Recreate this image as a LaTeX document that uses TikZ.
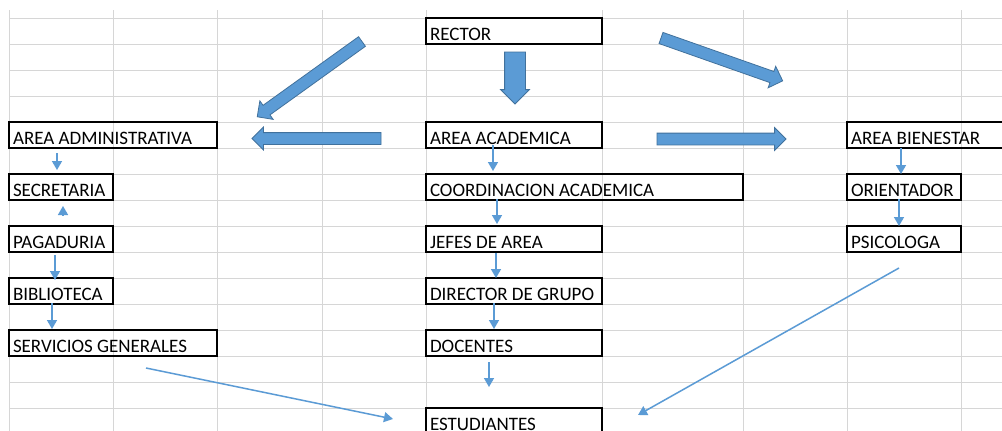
\documentclass[tikz,border=0pt]{standalone}
\usepackage{fontspec}
\setmainfont{Carlito}
\usetikzlibrary{shapes.arrows,arrows.meta}
\definecolor{officeblue}{HTML}{5B9BD5}
\definecolor{officeedge}{HTML}{41719C}
\definecolor{gridgray}{HTML}{D6D6D6}
\begin{document}
\begin{tikzpicture}[x=1pt, y=-1pt]

\tikzstyle{cell} = [rectangle, draw=black, line width=1.2pt, anchor=north west, outer sep=0pt,
  inner xsep=4pt, inner ysep=0pt, minimum height=26pt, text height=19pt, text depth=1pt,
  font=\fontsize{19}{22}\selectfont,
  execute at begin node={\spaceskip=0pt\xspaceskip=0pt\hbox to \linewidth\bgroup},
  execute at end node={\hfil\egroup}]
\tikzstyle{big} = [single arrow, fill=officeblue, draw=officeedge, line width=0.8pt,
  anchor=tail, inner xsep=0pt, inner ysep=5.5pt, outer sep=0pt,
  single arrow head extend=5.5pt, minimum height=129pt]
\tikzstyle{flow} = [-{Triangle[width=10pt,length=9pt]}, officeblue, line width=1.5pt]

\useasboundingbox (0,0) rectangle (1002,431);
\fill[white] (0,0) rectangle (1002,431);
\clip (0,0) rectangle (1002,431);

% sheet grid
\foreach \x in {9,113,217,322,426,602,743,847,961}
  \draw[gridgray, line width=1pt] (\x,10) -- (\x,431);
\foreach \y in {18,44,...,408}
  \draw[gridgray, line width=1pt] (9,\y) -- (1002,\y);

\node[cell, text width=168pt] (rec) at (426,18) {RECTOR};

\node[cell, text width=200pt] (adm) at (9,122) {AREA ADMINISTRATIVA};
\node[cell, text width=168pt] (aca) at (426,122) {AREA ACADEMICA};
\node[cell, text width=160pt] (bie) at (847,122) {AREA BIENESTAR};

\node[cell, text width=96pt] (sec) at (9,174) {SECRETARIA};
\node[cell, text width=309pt] (coo) at (426,174) {COORDINACION ACADEMICA};
\node[cell, text width=106pt] (ori) at (847,174) {ORIENTADOR};

\node[cell, text width=96pt] (pag) at (9,226) {PAGADURIA};
\node[cell, text width=168pt] (jef) at (426,226) {JEFES DE AREA};
\node[cell, text width=106pt] (psi) at (847,226) {PSICOLOGA};

\node[cell, text width=96pt] (bib) at (9,278) {BIBLIOTECA};
\node[cell, text width=168pt] (dir) at (426,278) {DIRECTOR DE GRUPO};

\node[cell, text width=200pt] (ser) at (9,330) {SERVICIOS GENERALES};
\node[cell, text width=168pt] (doc) at (426,330) {DOCENTES};

\node[cell, text width=168pt] (est) at (426,408) {ESTUDIANTES};

% block arrows
\node[big, rotate=-90, minimum height=52pt, inner ysep=10pt, single arrow head extend=4pt] (b1) at (515,52) {};
\node[big, rotate=215.7] (b2) at (362,41.5) {};
\node[big, rotate=180] (b3) at (381,138.5) {};
\node[big] (b4) at (657,139) {};
\node[big, rotate=-19.4] (b5) at (661,38) {};

% thin arrows
\draw[flow] ([shift={(48,5)}]adm.south west) -- ([shift={(48,-4)}]sec.north west);
\draw[flow] ([shift={(54,-11)}]pag.north west) -- ([shift={(54,6)}]sec.south west);
\draw[flow] ([shift={(46,3)}]pag.south west) -- ([shift={(46,2)}]bib.north west);
\draw[flow] ([shift={(43,-1)}]bib.south west) -- ([shift={(43,-1)}]ser.north west);
\draw[flow] ([shift={(137,12)}]ser.south west) -- ([shift={(-33,11)}]est.north west);

\draw[flow] ([shift={(67,-3)}]aca.south west) -- ([shift={(67,-3)}]coo.north west);
\draw[flow] ([shift={(71,-1)}]coo.south west) -- ([shift={(71,-2)}]jef.north west);
\draw[flow] ([shift={(70,1)}]jef.south west) -- ([shift={(70,0)}]dir.north west);
\draw[flow] ([shift={(68,-1)}]dir.south west) -- ([shift={(68,-1)}]doc.north west);
\draw[flow] ([shift={(63,6)}]doc.south west) -- ([shift={(63,-21)}]est.north west);

\draw[flow] ([shift={(54,0)}]bie.south west) -- ([shift={(54,0)}]ori.north west);
\draw[flow] ([shift={(52,-1)}]ori.south west) -- ([shift={(52,0)}]psi.north west);
\draw[flow] ([shift={(52,16)}]psi.south west) -- ([shift={(36,7)}]est.north east);
\end{tikzpicture}
\end{document}
